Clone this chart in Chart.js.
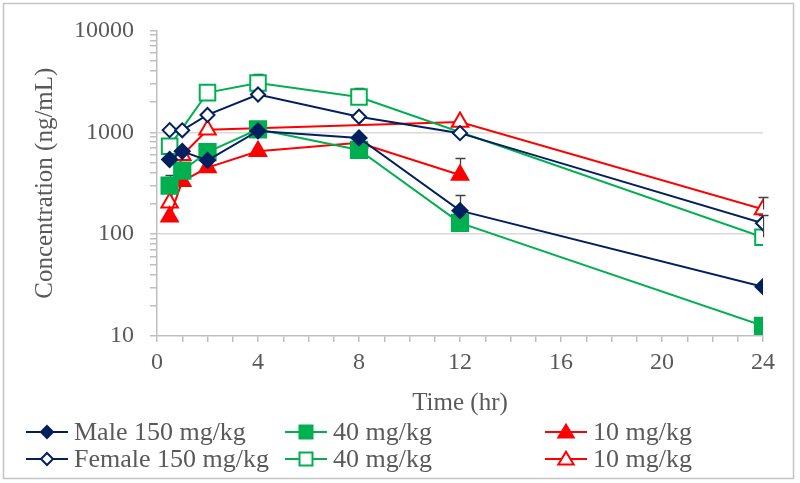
<!DOCTYPE html>
<html>
<head>
<meta charset="UTF-8">
<title>Concentration vs time</title>
<style>
  html, body { margin: 0; padding: 0; background: #fff; }
  #wrap { width: 800px; height: 483px; }
</style>
</head>
<body>
<div id="wrap"><canvas id="myChart" width="800" height="483"></canvas></div>
<script src="https://cdn.jsdelivr.net/npm/chart.js@4/dist/chart.umd.min.js"></script>
<script>
// time points (hr)
var times = [0.5, 1, 2, 4, 8, 12, 24];

// mean concentrations (ng/mL)
var male150   = [540, 650, 530, 1030, 880, 170, 30.5];
var male40    = [300, 420, 640, 1070, 670, 129, 12.6];
var male10    = [148, 330, 450, 650, 790, 380, null];
var female150 = [1050, 1045, 1480, 2350, 1420, 980, 128];
var female40  = [730, null, 2450, 3050, 2220, null, 93];
var female10  = [203, 595, 1060, null, null, 1260, 175];

// upper end of the error bars
var male150Err   = [640, null, null, null, null, 240, null];
var male40Err    = [380, null, null, null, null, null, null];
var male10Err    = [null, null, null, null, null, 560, null];
var female150Err = [null, null, null, null, null, null, null];
var female40Err  = [835, null, 2780, 3700, 2740, null, 154];
var female10Err  = [null, null, null, null, null, null, 232];

var legendLabels = ["Male 150 mg/kg", "40 mg/kg", "10 mg/kg",
                    "Female 150 mg/kg", "40 mg/kg", "10 mg/kg"];

var yTicks = [10, 100, 1000, 10000];
var xTicks = [0, 4, 8, 12, 16, 20, 24];

var NAVY = "#002060", GREEN = "#00B050", RED = "#FF0000", TXT = "#595959";
var FONT = "'Liberation Serif', 'Times New Roman', serif";

function pts(vals) {
    var out = [];
    for (var i = 0; i < times.length; i++) {
        out.push({x: times[i], y: vals[i]});
    }
    return out;
}

function makeSet(label, vals, err, color, style, filled, radius) {
    return {
        label: label,
        data: pts(vals),
        errUp: err,
        borderColor: color,
        borderWidth: 2,
        pointStyle: style,
        pointRadius: radius,
        pointHoverRadius: radius,
        pointBorderWidth: 2,
        pointBorderColor: color,
        pointBackgroundColor: filled ? color : "#ffffff",
        spanGaps: true,
        fill: false,
        tension: 0,
        mk: {style: style, filled: filled}
    };
}

var datasets = [
    makeSet(legendLabels[0], male150, male150Err, NAVY, "rectRot", true, 7.5),
    makeSet(legendLabels[1], male40, male40Err, GREEN, "rect", true, 11.5),
    makeSet(legendLabels[2], male10, male10Err, RED, "triangle", true, 9.5),
    makeSet(legendLabels[3], female150, female150Err, NAVY, "rectRot", false, 7),
    makeSet(legendLabels[4], female40, female40Err, GREEN, "rect", false, 11),
    makeSet(legendLabels[5], female10, female10Err, RED, "triangle", false, 9.5)
];

function drawMarker(ctx, style, x, y, size, color, filled) {
    ctx.beginPath();
    if (style === "rectRot") {
        ctx.moveTo(x - size, y); ctx.lineTo(x, y - size);
        ctx.lineTo(x + size, y); ctx.lineTo(x, y + size);
    } else if (style === "rect") {
        ctx.rect(x - size, y - size, size * 2, size * 2);
    } else {
        ctx.moveTo(x, y - size * 1.05);
        ctx.lineTo(x + size * 1.1, y + size * 0.8);
        ctx.lineTo(x - size * 1.1, y + size * 0.8);
    }
    ctx.closePath();
    ctx.fillStyle = filled ? color : "#ffffff";
    ctx.fill();
    ctx.lineWidth = 2;
    ctx.strokeStyle = color;
    ctx.stroke();
}

var extras = {
    id: "extras",
    beforeDraw: function (chart) {
        var c = chart.ctx;
        c.save();
        c.strokeStyle = "#c4c4c4";
        c.lineWidth = 1.5;
        c.strokeRect(3.5, 3.5, 790, 475);
        c.restore();
    },
    beforeDatasetsDraw: function (chart) {
        var c = chart.ctx, xs = chart.scales.x, ys = chart.scales.y;
        c.save();
        c.strokeStyle = "#404040";
        c.lineWidth = 1.3;
        chart.data.datasets.forEach(function (ds) {
            ds.data.forEach(function (p, i) {
                var top = ds.errUp[i];
                if (top == null || p.y == null) return;
                var px = Math.round(xs.getPixelForValue(p.x)) + 0.5;
                var y0 = ys.getPixelForValue(p.y);
                var y1 = Math.round(ys.getPixelForValue(top)) + 0.5;
                c.beginPath();
                c.moveTo(px, y0); c.lineTo(px, y1);
                c.moveTo(px - 5, y1); c.lineTo(px + 5, y1);
                c.stroke();
            });
        });
        c.restore();
    },
    afterDraw: function (chart) {
        var c = chart.ctx;
        var colX = [26, 285, 545], rowY = [432, 459];
        c.save();
        c.font = "26px " + FONT;
        c.textBaseline = "middle";
        chart.data.datasets.forEach(function (ds, i) {
            var x0 = colX[i % 3], y = rowY[Math.floor(i / 3)];
            c.strokeStyle = ds.borderColor;
            c.lineWidth = 2;
            c.beginPath();
            c.moveTo(x0, y); c.lineTo(x0 + 42, y);
            c.stroke();
            var sz = ds.mk.style === "rectRot" ? 6 : (ds.mk.style === "rect" ? 6.5 : 7);
            drawMarker(c, ds.mk.style, x0 + 21, y, sz, ds.borderColor, ds.mk.filled);
            c.fillStyle = TXT;
            c.fillText(ds.label, x0 + 48, y + 1);
        });
        c.restore();
    }
};

var ctx = document.getElementById("myChart");
var myChart = new Chart(ctx, {
    type: "line",
    data: {datasets: datasets},
    plugins: [extras],
    options: {
        responsive: false,
        animation: false,
        events: [],
        layout: {padding: {top: 30, right: 37, bottom: 63, left: 0}},
        plugins: {legend: {display: false}, tooltip: {enabled: false}},
        scales: {
            x: {
                type: "linear",
                min: 0,
                max: 24,
                afterFit: function (s) { s.height = 84; },
                afterBuildTicks: function (s) {
                    var t = [];
                    for (var h = 0; h <= 24; h++) t.push({value: h});
                    s.ticks = t;
                },
                ticks: {
                    autoSkip: false,
                    maxRotation: 0,
                    padding: 6,
                    color: TXT,
                    font: {family: FONT, size: 24},
                    callback: function (v) { return xTicks.indexOf(v) >= 0 ? String(v) : ""; }
                },
                grid: {drawOnChartArea: false, tickLength: 6, tickColor: "#bfbfbf", lineWidth: 1.5},
                border: {color: "#bfbfbf", width: 1.5},
                title: {
                    display: true,
                    text: "Time (hr)",
                    color: TXT,
                    font: {family: FONT, size: 25},
                    padding: {top: 0, bottom: 2}
                }
            },
            y: {
                type: "logarithmic",
                min: 10,
                max: 10000,
                afterFit: function (s) { s.width = 157; },
                afterBuildTicks: function (s) {
                    var t = [];
                    for (var d = 10; d < 10000; d *= 10) {
                        for (var m = 1; m < 10; m++) t.push({value: d * m});
                    }
                    t.push({value: 10000});
                    s.ticks = t;
                },
                ticks: {
                    autoSkip: false,
                    padding: 16,
                    color: TXT,
                    font: {family: FONT, size: 24},
                    callback: function (v) { return yTicks.indexOf(v) >= 0 ? String(v) : ""; }
                },
                grid: {
                    tickLength: 7,
                    tickColor: "#bfbfbf",
                    lineWidth: 1.5,
                    color: function (c) {
                        var v = c.tick ? c.tick.value : 0;
                        return (v === 100 || v === 1000) ? "#d9d9d9" : "rgba(0,0,0,0)";
                    }
                },
                border: {color: "#bfbfbf", width: 1.5},
                title: {
                    display: true,
                    text: "Concentration (ng/mL)",
                    color: TXT,
                    font: {family: FONT, size: 25},
                    padding: {top: 30, bottom: 0}
                }
            }
        }
    }
});
</script>
</body>
</html>
